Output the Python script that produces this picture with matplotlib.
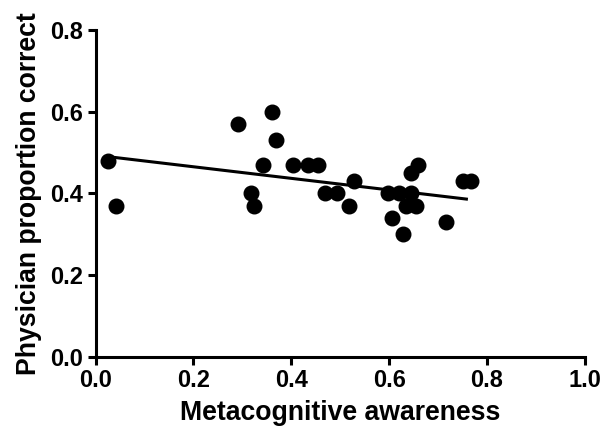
import matplotlib.pyplot as plt

# ---------------- Data ----------------
awareness = [0.025, 0.041, 0.292, 0.360, 0.368, 0.343, 0.404, 0.435, 0.455,
             0.317, 0.324, 0.469, 0.493, 0.518, 0.528, 0.597, 0.620, 0.645,
             0.645, 0.659, 0.634, 0.656, 0.606, 0.629, 0.717, 0.751, 0.768]
proportion = [0.48, 0.37, 0.57, 0.60, 0.53, 0.47, 0.47, 0.47, 0.47,
              0.40, 0.37, 0.40, 0.40, 0.37, 0.43, 0.40, 0.40, 0.40,
              0.45, 0.47, 0.37, 0.37, 0.34, 0.30, 0.33, 0.43, 0.43]

# regression line end points
fit_x = [0.025, 0.758]
fit_y = [0.490, 0.386]

x_ticks = [0.0, 0.2, 0.4, 0.6, 0.8, 1.0]
y_ticks = [0.0, 0.2, 0.4, 0.6, 0.8]

# ---------------- Plot ----------------
plt.rcParams['font.family'] = ['Liberation Sans', 'DejaVu Sans']

fig = plt.figure(figsize=(6.01, 4.36), dpi=100)
ax = fig.add_axes([0.159, 0.182, 0.814, 0.749])

ax.plot(fit_x, fit_y, color='black', lw=2.2, zorder=2)
ax.scatter(awareness, proportion, s=110, color='black', zorder=3)

ax.set_xlim(0, 1.0)
ax.set_ylim(0, 0.8)
ax.set_xticks(x_ticks)
ax.set_yticks(y_ticks)
ax.set_xticklabels([f"{t:.1f}" for t in x_ticks], fontsize=17, fontweight='bold')
ax.set_yticklabels([f"{t:.1f}" for t in y_ticks], fontsize=17, fontweight='bold')

for side in ('top', 'right'):
    ax.spines[side].set_visible(False)
for side in ('left', 'bottom'):
    ax.spines[side].set_linewidth(2.2)
ax.tick_params(width=2.2, length=6, direction='out', pad=3)

ax.set_xlabel("Metacognitive awareness", fontsize=19.2, fontweight='bold', labelpad=6)
ax.set_ylabel("Physician proportion correct", fontsize=19.2, fontweight='bold', labelpad=6)

fig.savefig("out.png", dpi=100)
